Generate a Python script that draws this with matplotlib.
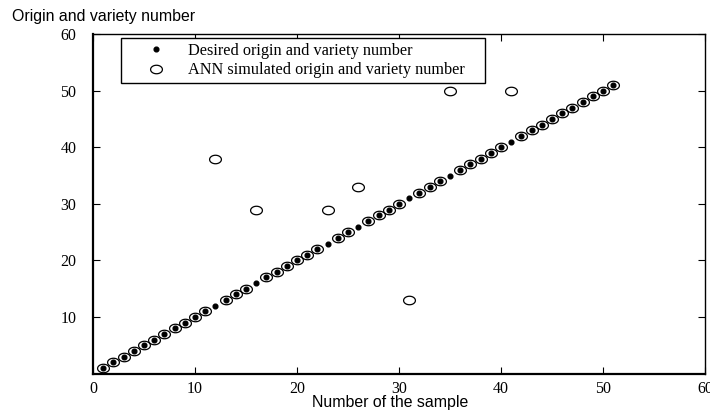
import numpy as np
import matplotlib.pyplot as plt
from matplotlib.path import Path

# sample numbers and desired outputs
samples = list(range(1, 52))
desired = list(range(1, 52))

# ANN outputs: equal to desired except for these samples
ann_wrong_x = [12, 16, 23, 26, 31, 35, 41]
ann_wrong_y = [38, 29, 29, 33, 13, 50, 50]

ann_y = [ann_wrong_y[ann_wrong_x.index(s)] if s in ann_wrong_x else d
         for s, d in zip(samples, desired)]

serif = "Liberation Serif"
sans = "Liberation Sans"

fig = plt.figure(figsize=(7.1, 4.17), dpi=100)
ax = fig.add_axes([0.131, 0.104, 0.862, 0.814])

t = np.linspace(0, 2 * np.pi, 60)
ellipse = Path(np.column_stack([np.cos(t), 0.72 * np.sin(t)]), closed=True)

ax.plot(samples, desired, linestyle="none", marker="o", markersize=3.4,
        color="black", label="Desired origin and variety number")
ax.plot(samples, ann_y, linestyle="none", marker=ellipse, markersize=8.5,
        markerfacecolor="none", markeredgecolor="black", markeredgewidth=0.9,
        label="ANN simulated origin and variety number")

ax.set_xlim(0, 60)
ax.set_ylim(0, 60)
ax.set_xticks(range(0, 61, 10))
ax.set_yticks(range(10, 61, 10))
ax.tick_params(direction="in", length=5, width=0.8, top=True, right=True,
               labelsize=11.5)
ax.tick_params(axis="x", pad=5)
ax.tick_params(axis="y", pad=12)
for lab in ax.get_xticklabels() + ax.get_yticklabels():
    lab.set_fontfamily(serif)

for side in ["left", "bottom"]:
    ax.spines[side].set_linewidth(1.6)
for side in ["top", "right"]:
    ax.spines[side].set_linewidth(1.0)

leg = ax.legend(loc="upper left", bbox_to_anchor=(0.0458, 0.0, 0.5948, 0.988),
                mode="expand", prop={"family": serif, "size": 11.7},
                fancybox=False, framealpha=1, edgecolor="black",
                borderpad=0.3, handlelength=3.7, handletextpad=0.1,
                labelspacing=0.2, borderaxespad=0)
leg.get_frame().set_linewidth(1.0)

fig.text(12 / 710, 1 - 17 / 417, "Origin and variety number", family=sans,
         fontsize=11.4, va="center", ha="left")
fig.text(390 / 710, 1 - 403 / 417, "Number of the sample", family=sans,
         fontsize=11.4, va="center", ha="center")

fig.savefig("out.png", dpi=100)
